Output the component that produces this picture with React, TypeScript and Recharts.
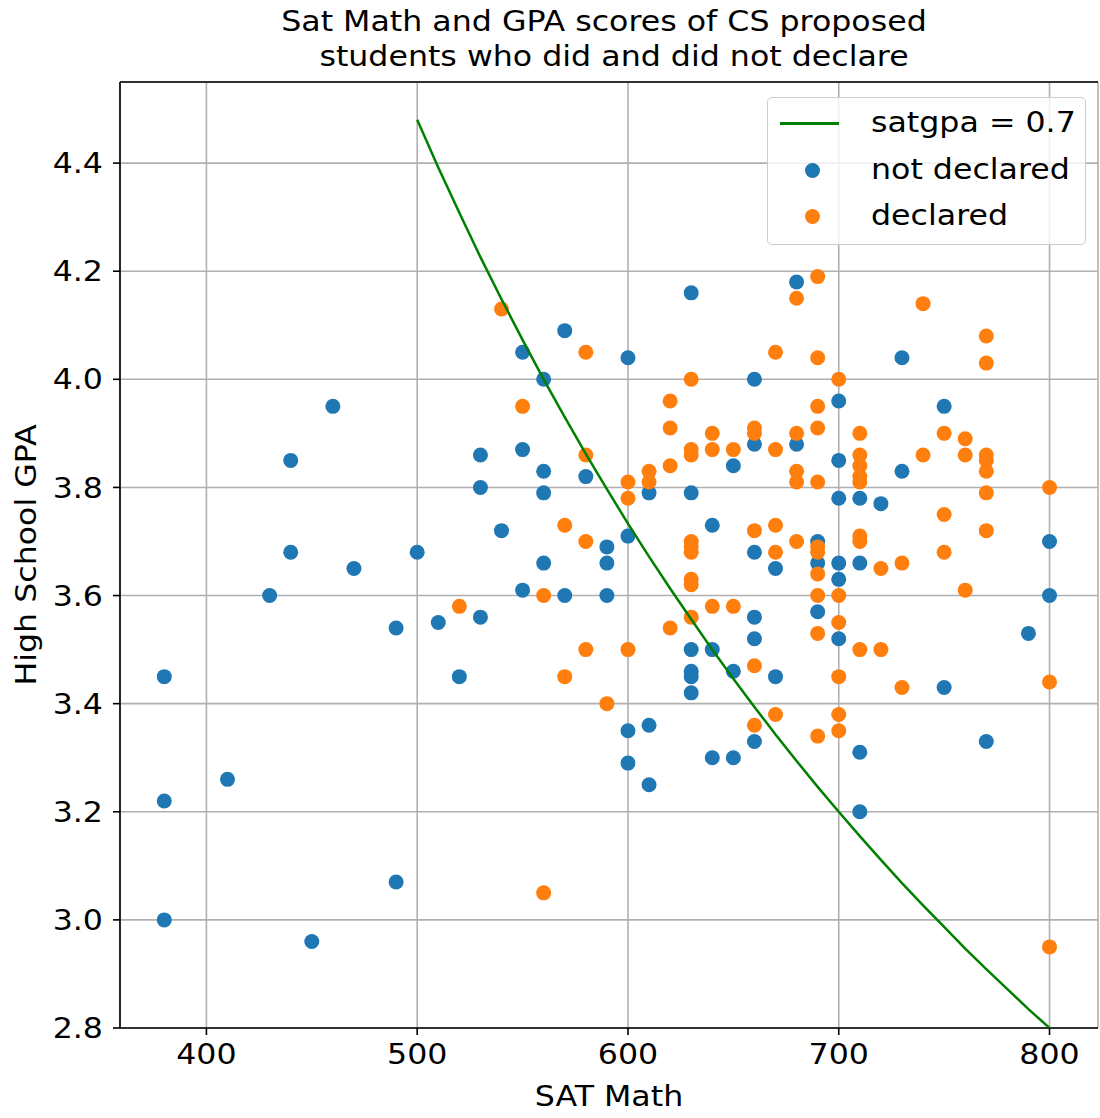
import {
  CartesianGrid,
  ReferenceLine,
  Scatter,
  ScatterChart,
  XAxis,
  YAxis,
} from 'recharts'

const BLUE = '#1f77b4'
const ORANGE = '#ff7f0e'
const GREEN = '#008000'
const FONT = '"DejaVu Sans", sans-serif'
// the source image is a bit wider than tall, so text is stretched sideways
const STRETCH = 1.13

const satTicks = [400, 500, 600, 700, 800]
const gpaTicks = [2.8, 3.0, 3.2, 3.4, 3.6, 3.8, 4.0, 4.2, 4.4]

// SAT Math score -> GPAs of the students at that score
const notDeclaredBySat: [number, number[]][] = [
  [380, [3.45, 3.22, 3.0]],
  [410, [3.26]],
  [430, [3.6]],
  [440, [3.85, 3.68]],
  [450, [2.96]],
  [460, [3.95]],
  [470, [3.65]],
  [490, [3.54, 3.07]],
  [500, [3.68]],
  [510, [3.55]],
  [520, [3.45]],
  [530, [3.86, 3.8, 3.56]],
  [540, [3.72]],
  [550, [4.05, 3.87, 3.61]],
  [560, [4.0, 3.83, 3.79, 3.66]],
  [570, [4.09, 3.6]],
  [580, [3.82]],
  [590, [3.69, 3.66, 3.6]],
  [600, [4.04, 3.71, 3.35, 3.29]],
  [610, [3.79, 3.36, 3.25]],
  [630, [4.16, 3.79, 3.5, 3.46, 3.45, 3.42]],
  [640, [3.73, 3.5, 3.3]],
  [650, [3.84, 3.46, 3.3]],
  [660, [4.0, 3.88, 3.68, 3.56, 3.52, 3.33]],
  [670, [3.65, 3.45]],
  [680, [4.18, 3.88]],
  [690, [3.7, 3.66, 3.57]],
  [700, [3.96, 3.85, 3.78, 3.66, 3.63, 3.52]],
  [710, [3.78, 3.66, 3.31, 3.2]],
  [720, [3.77]],
  [730, [4.04, 3.83]],
  [750, [3.95, 3.43]],
  [770, [3.33]],
  [790, [3.53]],
  [800, [3.7, 3.6]],
]

const declaredBySat: [number, number[]][] = [
  [520, [3.58]],
  [540, [4.13]],
  [550, [3.95]],
  [560, [3.6, 3.05]],
  [570, [3.73, 3.45]],
  [580, [4.05, 3.86, 3.7, 3.5]],
  [590, [3.4]],
  [600, [3.81, 3.78, 3.5]],
  [610, [3.83, 3.81]],
  [620, [3.96, 3.91, 3.84, 3.54]],
  [630, [4.0, 3.87, 3.86, 3.7, 3.69, 3.68, 3.63, 3.62, 3.56]],
  [640, [3.9, 3.87, 3.58]],
  [650, [3.87, 3.58]],
  [660, [3.91, 3.9, 3.72, 3.47, 3.36]],
  [670, [4.05, 3.87, 3.73, 3.68, 3.38]],
  [680, [4.15, 3.9, 3.83, 3.81, 3.7]],
  [690, [4.19, 4.04, 3.95, 3.91, 3.81, 3.69, 3.68, 3.64, 3.6, 3.53, 3.34]],
  [700, [4.0, 3.6, 3.55, 3.45, 3.38, 3.35]],
  [710, [3.9, 3.86, 3.84, 3.82, 3.81, 3.71, 3.7, 3.5]],
  [720, [3.65, 3.5]],
  [730, [3.66, 3.43]],
  [740, [4.14, 3.86]],
  [750, [3.9, 3.75, 3.68]],
  [760, [3.89, 3.86, 3.61]],
  [770, [4.08, 4.03, 3.86, 3.85, 3.83, 3.79, 3.72]],
  [800, [3.8, 3.44, 2.95]],
]

// satgpa = 0.7 boundary
const curveSat = [
  500, 510, 520, 530, 540, 550, 560, 570, 580, 590, 600, 610, 620, 630, 640, 650,
  660, 670, 680, 690, 700, 710, 720, 730, 740, 750, 760, 770, 780, 790, 800,
]
const curveGpa = [
  4.48, 4.392, 4.308, 4.226, 4.148, 4.073, 4.0, 3.93, 3.862, 3.797, 3.733, 3.672,
  3.613, 3.556, 3.5, 3.446, 3.394, 3.343, 3.294, 3.246, 3.2, 3.155, 3.111, 3.068,
  3.027, 2.987, 2.947, 2.909, 2.872, 2.835, 2.8,
]

const flatten = (groups: [number, number[]][]) =>
  groups.flatMap(([sat, gpas]) => gpas.map(gpa => ({ sat, gpa })))

const notDeclared = flatten(notDeclaredBySat)
const declared = flatten(declaredBySat)
const curve = curveSat.map((sat, i) => ({ sat, gpa: curveGpa[i] }))

const dot = (fill: string) => (props: any) =>
  <circle cx={props.cx} cy={props.cy} r={7.5} fill={fill} />

const lineStyle = { stroke: '#000', strokeWidth: 1.6 }

function XTick({ x, y, payload }: any) {
  return (
    <g transform={`translate(${x},${y}) scale(${STRETCH},1)`}>
      <text textAnchor="middle" dy="0.71em" fontSize={28} fontFamily={FONT} fill="#000">
        {payload.value}
      </text>
    </g>
  )
}

function YTick({ x, y, payload }: any) {
  return (
    <g transform={`translate(${x},${y}) scale(${STRETCH},1)`}>
      <text textAnchor="end" dy="0.36em" fontSize={28} fontFamily={FONT} fill="#000">
        {Number(payload.value).toFixed(1)}
      </text>
    </g>
  )
}

function Legend() {
  const row = (top: number) => ({
    position: 'absolute' as const,
    left: 0,
    top: top - 23,
    height: 46,
    width: '100%',
  })
  const label = {
    position: 'absolute' as const,
    left: 103,
    top: 0,
    lineHeight: '46px',
    fontSize: 28,
    whiteSpace: 'nowrap' as const,
    transform: `scaleX(${STRETCH})`,
    transformOrigin: 'left center',
  }
  return (
    <div
      style={{
        position: 'absolute',
        left: 767,
        top: 97,
        width: 317,
        height: 146,
        border: '1.5px solid #cccccc',
        borderRadius: 5,
        background: 'rgba(255,255,255,0.8)',
        fontFamily: FONT,
      }}
    >
      <div style={row(25)}>
        <div style={{ position: 'absolute', left: 12, top: 22, width: 59, height: 2.5, background: GREEN }} />
        <span style={label}>satgpa = 0.7</span>
      </div>
      <div style={row(72)}>
        <div style={{ position: 'absolute', left: 36.5, top: 15.5, width: 15, height: 15, borderRadius: '50%', background: BLUE }} />
        <span style={label}>not declared</span>
      </div>
      <div style={row(118)}>
        <div style={{ position: 'absolute', left: 36.5, top: 15.5, width: 15, height: 15, borderRadius: '50%', background: ORANGE }} />
        <span style={label}>declared</span>
      </div>
    </div>
  )
}

export default function App() {
  return (
    <div style={{ position: 'absolute', left: 0, top: 0, width: 1100, height: 1118, background: '#fff', fontFamily: FONT }}>
      <div
        style={{
          position: 'absolute',
          left: 109,
          width: 1000,
          top: 4,
          textAlign: 'center',
          fontSize: 28,
          lineHeight: '35px',
          whiteSpace: 'pre',
          transform: `scaleX(${STRETCH})`,
        }}
      >
        {'Sat Math and GPA scores of CS proposed \n students who did and did not declare'}
      </div>

      <ScatterChart width={1100} height={1118} margin={{ top: 82, right: 2, bottom: 0, left: 0 }}>
        <CartesianGrid stroke="#b0b0b0" strokeWidth={1.6} />
        <XAxis
          type="number"
          dataKey="sat"
          domain={[359, 823]}
          ticks={satTicks}
          allowDataOverflow
          height={90}
          tick={<XTick />}
          tickSize={7}
          tickMargin={9}
          axisLine={lineStyle}
          tickLine={lineStyle}
        />
        <YAxis
          type="number"
          dataKey="gpa"
          domain={[2.8, 4.55]}
          ticks={gpaTicks}
          allowDataOverflow
          width={120}
          tick={<YTick />}
          tickSize={7}
          tickMargin={10}
          axisLine={lineStyle}
          tickLine={lineStyle}
        />
        <ReferenceLine y={4.55} stroke="#000" strokeWidth={1.6} />
        <Scatter name="not declared" data={notDeclared} shape={dot(BLUE)} isAnimationActive={false} />
        <Scatter name="declared" data={declared} shape={dot(ORANGE)} isAnimationActive={false} />
        <Scatter
          name="satgpa = 0.7"
          data={curve}
          line={{ stroke: GREEN, strokeWidth: 2.5 }}
          lineJointType="linear"
          shape={() => <g />}
          isAnimationActive={false}
        />
      </ScatterChart>

      <div
        style={{
          position: 'absolute',
          left: 27,
          top: 555,
          transform: `translate(-50%, -50%) rotate(-90deg) scaleX(${STRETCH})`,
          fontSize: 28,
          lineHeight: '28px',
          whiteSpace: 'nowrap',
        }}
      >
        High School GPA
      </div>
      <div
        style={{
          position: 'absolute',
          left: 109,
          width: 1000,
          top: 1083,
          textAlign: 'center',
          fontSize: 28,
          lineHeight: '28px',
          transform: `scaleX(${STRETCH})`,
        }}
      >
        SAT Math
      </div>

      <Legend />
    </div>
  )
}
